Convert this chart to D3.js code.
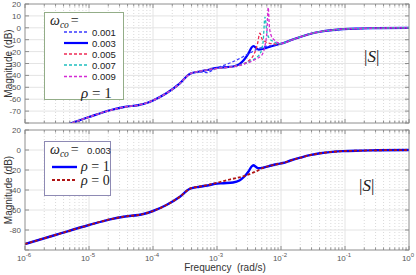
<!DOCTYPE html>
<html>
<head>
<meta charset="utf-8">
<script src="https://cdn.jsdelivr.net/npm/d3@7"></script>
<style>
  body { margin: 0; background: #fff; }
  svg { display: block; }
  .tick-label { font-family: "Liberation Sans", Arial, sans-serif; font-size: 8px; fill: #555; }
  .axis-title { font-family: "Liberation Sans", Arial, sans-serif; font-size: 10px; fill: #333; }
  .leg { font-family: "Liberation Sans", Arial, sans-serif; font-size: 9.5px; fill: #222; }
  .math { font-family: "Liberation Serif", "DejaVu Serif", serif; fill: #222; }
</style>
</head>
<body>
<div id="chart"></div>
<script>
const w = 416;
const h = 275;

// shared low-frequency part of every curve (rad/s, dB)
const lowFreq = [1e-6, 3.16e-6, 1e-5, 2.14e-5, 3.47e-5, 7.08e-5, 1e-4, 1.62e-4, 2.63e-4, 3.8e-4];
const lowDb   = [-94, -84.5, -75, -69.3, -66.7, -64, -61, -55, -46.7, -38.6];

// shared high-frequency part
const highFreq = [0.0107, 0.0141, 0.02, 0.0282, 0.0407, 0.063, 0.093, 0.178, 0.316, 1];
const highDb   = [-13, -10.5, -7.7, -5.2, -3.3, -1.9, -1.1, -0.6, -0.3, 0];

// middle section, one per omega_co
const wcoLabels = ["0.001", "0.003", "0.005", "0.007", "0.009"];
const midFreq = [
  [5.37e-4, 7.08e-4, 8.9e-4, 1.12e-3, 1.78e-3, 2.51e-3, 3.31e-3, 4.47e-3, 6.03e-3, 7.94e-3, 8.9e-3],
  [5.37e-4, 7.76e-4, 9.33e-4, 1.26e-3, 1.78e-3, 2.24e-3, 2.63e-3, 3.09e-3, 3.47e-3, 3.72e-3, 3.98e-3, 4.47e-3, 5.25e-3, 7.08e-3, 8.9e-3],
  [5.37e-4, 7.76e-4, 1.26e-3, 1.78e-3, 2.51e-3, 3.16e-3, 3.8e-3, 4.27e-3, 4.68e-3, 5.01e-3, 5.62e-3, 6.61e-3, 7.94e-3, 8.9e-3],
  [5.37e-4, 7.76e-4, 1.26e-3, 1.78e-3, 3.16e-3, 3.98e-3, 4.79e-3, 5.25e-3, 5.62e-3, 6.03e-3, 6.61e-3, 7.94e-3, 8.9e-3],
  [5.37e-4, 7.76e-4, 1.26e-3, 1.78e-3, 3.16e-3, 3.98e-3, 5.01e-3, 5.62e-3, 6.03e-3, 6.31e-3, 6.61e-3, 7.08e-3, 7.94e-3, 8.9e-3]
];
const midDb = [
  [-37, -37.6, -35, -32.7, -28.5, -24.5, -21, -17.5, -15.5, -14.5, -14],
  [-36.7, -35, -33.8, -33.2, -32.5, -30.5, -27, -21.7, -16.5, -15.3, -16.5, -18.3, -17.7, -15.5, -14],
  [-36.5, -35, -33.5, -32.5, -30.5, -27.5, -22, -14, -4.6, -9, -11.5, -13, -13.5, -14],
  [-36.5, -35, -33.5, -32.8, -28.5, -25.5, -21, -12, 9, -4, -9, -12, -13.5],
  [-36.5, -35, -33.5, -32.8, -29, -26.5, -23, -15, -3, 17, 0, -7, -10.5, -12.5]
];

// bottom panel: rho = 0 middle section
const rho0Freq = [5.37e-4, 7.76e-4, 1.12e-3, 1.58e-3, 2.51e-3, 3.55e-3, 4.68e-3, 5.25e-3, 7.08e-3, 8.9e-3];
const rho0Db   = [-36.5, -34.5, -32, -29.5, -26.5, -23, -19.5, -17.8, -15.5, -14];

const xTicks = [1e-6, 1e-5, 1e-4, 1e-3, 1e-2, 1e-1, 1];
const xExp   = ["-6", "-5", "-4", "-3", "-2", "-1", "0"];
const topYTicks = [20, 10, 0, -10, -20, -30, -40, -50, -60, -70, -80];
const botYTicks = [20, 0, -20, -40, -60, -80, -100];

function build(mF, mD) {
  const f = lowFreq.concat(mF, highFreq);
  const d = lowDb.concat(mD, highDb);
  return f.map((v, i) => [v, d[i]]);
}

const svg = d3.select("#chart").append("svg")
  .attr("width", w).attr("height", h);

const x = d3.scaleLog().domain([1e-6, 1]).range([25, 409]);
const yTop = d3.scaleLinear().domain([-80, 20]).range([123, 4]);
const yBot = d3.scaleLinear().domain([-100, 20]).range([250, 130]);

const minorX = [];
for (let e = -6; e < 0; e++) {
  for (let k = 2; k <= 9; k++) minorX.push(k * Math.pow(10, e));
}

function panel(y, yTicks, labelSkip, id) {
  const [y0, y1] = y.range();
  const g = svg.append("g");

  // minor dotted grid
  g.selectAll(".mgx").data(minorX).enter().append("line")
    .attr("x1", d => x(d)).attr("x2", d => x(d))
    .attr("y1", y1).attr("y2", y0)
    .attr("stroke", "#d0d0d0").attr("stroke-width", 0.8)
    .attr("stroke-dasharray", "1,2");
  // major grid
  g.selectAll(".gx").data(xTicks).enter().append("line")
    .attr("x1", d => x(d)).attr("x2", d => x(d))
    .attr("y1", y1).attr("y2", y0)
    .attr("stroke", "#e4e4e4").attr("stroke-width", 1);
  g.selectAll(".gy").data(yTicks).enter().append("line")
    .attr("x1", 25).attr("x2", 409)
    .attr("y1", d => y(d)).attr("y2", d => y(d))
    .attr("stroke", "#e4e4e4").attr("stroke-width", 1);

  svg.append("clipPath").attr("id", id)
    .append("rect").attr("x", 25).attr("y", y1).attr("width", 384).attr("height", y0 - y1);

  // inward ticks
  const tk = svg.append("g").attr("stroke", "#777").attr("stroke-width", 0.8);
  xTicks.forEach(d => {
    tk.append("line").attr("x1", x(d)).attr("x2", x(d)).attr("y1", y0).attr("y2", y0 - 4);
    tk.append("line").attr("x1", x(d)).attr("x2", x(d)).attr("y1", y1).attr("y2", y1 + 4);
  });
  minorX.forEach(d => {
    tk.append("line").attr("x1", x(d)).attr("x2", x(d)).attr("y1", y0).attr("y2", y0 - 2.5);
    tk.append("line").attr("x1", x(d)).attr("x2", x(d)).attr("y1", y1).attr("y2", y1 + 2.5);
  });
  yTicks.forEach(d => {
    tk.append("line").attr("x1", 25).attr("x2", 29).attr("y1", y(d)).attr("y2", y(d));
    tk.append("line").attr("x1", 409).attr("x2", 405).attr("y1", y(d)).attr("y2", y(d));
  });

  // y tick labels
  svg.append("g").selectAll("text").data(yTicks.filter(d => !labelSkip.includes(d))).enter()
    .append("text").attr("class", "tick-label")
    .attr("x", 21).attr("y", d => y(d) + 3)
    .attr("text-anchor", "end").text(d => d);

  // y title
  svg.append("text").attr("class", "axis-title")
    .attr("font-size", "11.5px")
    .attr("transform", `translate(12,${(y0 + y1) / 2}) rotate(-90)`)
    .attr("text-anchor", "middle").text("Magnitude (dB)");
  return g;
}

function frame(y) {
  const [y0, y1] = y.range();
  svg.append("rect").attr("x", 25).attr("y", y1).attr("width", 384).attr("height", y0 - y1)
    .attr("fill", "none").attr("stroke", "#888").attr("stroke-width", 0.8);
}

panel(yTop, topYTicks, [-80], "clipTop");
panel(yBot, botYTicks, [-100], "clipBot");

const lineTop = d3.line().x(d => x(d[0])).y(d => yTop(d[1])).curve(d3.curveMonotoneX);
const lineBot = d3.line().x(d => x(d[0])).y(d => yBot(d[1])).curve(d3.curveMonotoneX);

const topStyles = [
  { color: "#3a3aff", width: 1.3, dash: "3,2" },
  { color: "#0000ff", width: 2.2, dash: null },
  { color: "#ee2a55", width: 1.3, dash: "3,2" },
  { color: "#1fbfbf", width: 1.3, dash: "3,2" },
  { color: "#d42ad4", width: 1.3, dash: "3,2" }
];
const drawOrder = [1, 0, 2, 3, 4];

const topG = svg.append("g").attr("clip-path", "url(#clipTop)");
drawOrder.forEach(i => {
  topG.append("path")
    .attr("d", lineTop(build(midFreq[i], midDb[i])))
    .attr("fill", "none")
    .attr("stroke", topStyles[i].color)
    .attr("stroke-width", topStyles[i].width)
    .attr("stroke-dasharray", topStyles[i].dash);
});

const botG = svg.append("g").attr("clip-path", "url(#clipBot)");
botG.append("path")
  .attr("d", lineBot(build(midFreq[1], midDb[1])))
  .attr("fill", "none").attr("stroke", "#0000ff").attr("stroke-width", 2.4);
botG.append("path")
  .attr("d", lineBot(build(rho0Freq, rho0Db)))
  .attr("fill", "none").attr("stroke", "#b01515").attr("stroke-width", 1.8)
  .attr("stroke-dasharray", "3,2");

frame(yTop);
frame(yBot);

// x tick labels
const xl = svg.append("g");
xTicks.forEach((d, i) => {
  const t = xl.append("text").attr("class", "tick-label")
    .attr("x", x(d) - 1).attr("y", 260.5).attr("text-anchor", "middle");
  t.append("tspan").text("10");
  t.append("tspan").attr("dy", -4).attr("font-size", "6px").text(xExp[i]);
});
svg.append("text").attr("class", "axis-title")
  .attr("x", 225).attr("y", 271).attr("text-anchor", "middle")
  .attr("xml:space", "preserve").text("Frequency  (rad/s)");

// |S| labels
function absS(px, py) {
  const t = svg.append("text").attr("class", "math").attr("x", px).attr("y", py).attr("font-size", "17px");
  t.append("tspan").text("|");
  t.append("tspan").attr("font-style", "italic").text("S");
  t.append("tspan").text("|");
}
absS(364, 62);
absS(359, 191);

function omega(g, px, py) {
  const t = g.append("text").attr("class", "math").attr("x", px).attr("y", py);
  t.append("tspan").attr("font-style", "italic").attr("font-size", "14px").text("ω");
  t.append("tspan").attr("font-style", "italic").attr("font-size", "9.5px").attr("dy", 3).text("co");
  t.append("tspan").attr("font-size", "14px").attr("dy", -3).attr("dx", 2).text("=");
}

// top legend
const lg1 = svg.append("g");
lg1.append("rect").attr("x", 44.5).attr("y", 12.5).attr("width", 79).attr("height", 87)
  .attr("fill", "#fff").attr("stroke", "#93ad88").attr("stroke-width", 1);
omega(lg1, 50, 25);
const rowY = [32, 43, 54, 65, 76.5];
wcoLabels.forEach((lab, i) => {
  lg1.append("line").attr("x1", 64).attr("x2", 88).attr("y1", rowY[i]).attr("y2", rowY[i])
    .attr("stroke", topStyles[i].color).attr("stroke-width", topStyles[i].width)
    .attr("stroke-dasharray", topStyles[i].dash);
  lg1.append("text").attr("class", "leg").attr("x", 92).attr("y", rowY[i] + 3.5).text(lab);
});
const r1 = lg1.append("text").attr("class", "math").attr("x", 81).attr("y", 98).attr("font-size", "15px");
r1.append("tspan").attr("font-style", "italic").text("ρ");
r1.append("tspan").text(" = 1");

// bottom legend
const lg2 = svg.append("g");
lg2.append("rect").attr("x", 44.5).attr("y", 141.5).attr("width", 66).attr("height", 54)
  .attr("fill", "#fff").attr("stroke", "#8e8ab4").attr("stroke-width", 1);
omega(lg2, 50, 154);
lg2.append("text").attr("class", "leg").attr("x", 87).attr("y", 154).text("0.003");
lg2.append("line").attr("x1", 52).attr("x2", 77).attr("y1", 167).attr("y2", 167)
  .attr("stroke", "#0000ff").attr("stroke-width", 2.4);
lg2.append("line").attr("x1", 52).attr("x2", 77).attr("y1", 180).attr("y2", 180)
  .attr("stroke", "#b01515").attr("stroke-width", 1.8).attr("stroke-dasharray", "3,2");
[["1", 171], ["0", 184.5]].forEach(([v, py]) => {
  const t = lg2.append("text").attr("class", "math").attr("x", 81).attr("y", py).attr("font-size", "14px");
  t.append("tspan").attr("font-style", "italic").text("ρ");
  t.append("tspan").text(" = " + v);
});
</script>
</body>
</html>
